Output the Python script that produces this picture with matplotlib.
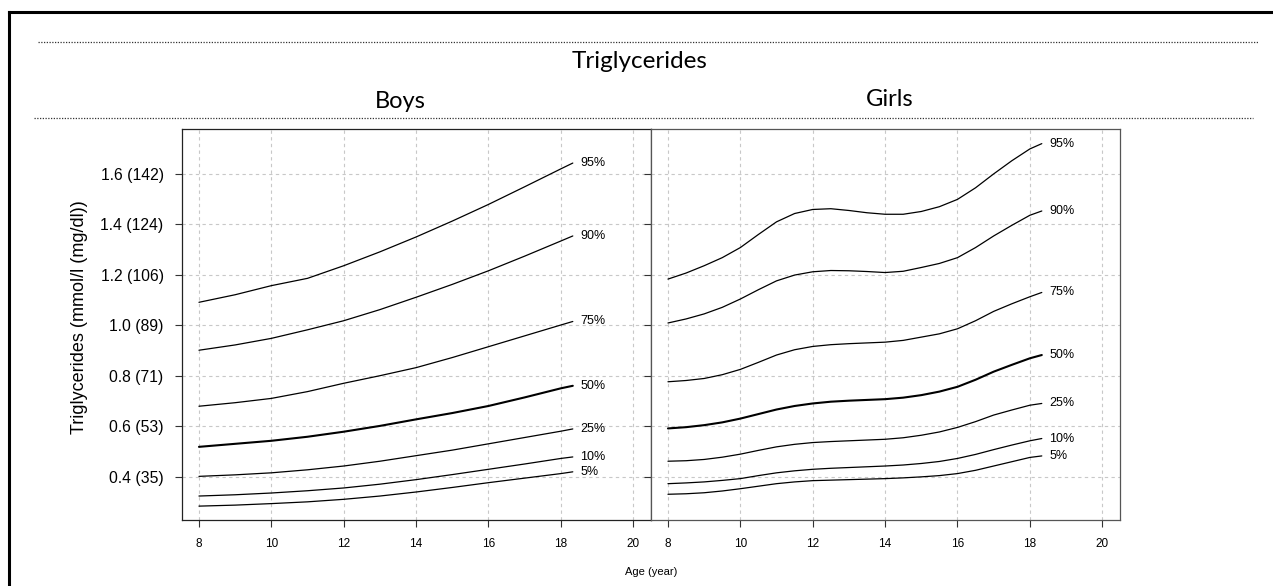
import matplotlib
matplotlib.use("Agg")
import matplotlib.pyplot as plt
from matplotlib.lines import Line2D

# age grid (years) the curves were read at; last point is where the curves stop
boys_ages = [8, 9, 10, 11, 12, 13, 14, 15, 16, 17, 18, 18.33]
girls_ages = [8, 8.5, 9, 9.5, 10, 10.5, 11, 11.5, 12, 12.5, 13, 13.5, 14, 14.5,
              15, 15.5, 16, 16.5, 17, 17.5, 18, 18.33]

# percentile curves, triglycerides in mmol/l
boys = {
    "95%": [1.091, 1.121, 1.157, 1.186, 1.236, 1.291, 1.350, 1.413, 1.479, 1.549, 1.620, 1.643],
    "90%": [0.901, 0.922, 0.948, 0.982, 1.018, 1.062, 1.111, 1.162, 1.216, 1.274, 1.334, 1.354],
    "75%": [0.679, 0.693, 0.710, 0.737, 0.770, 0.800, 0.832, 0.872, 0.915, 0.958, 1.001, 1.015],
    "50%": [0.518, 0.530, 0.542, 0.558, 0.578, 0.601, 0.627, 0.652, 0.680, 0.714, 0.750, 0.760],
    "25%": [0.401, 0.407, 0.415, 0.427, 0.442, 0.461, 0.483, 0.505, 0.530, 0.555, 0.580, 0.589],
    "10%": [0.323, 0.328, 0.335, 0.344, 0.355, 0.370, 0.388, 0.408, 0.429, 0.450, 0.472, 0.478],
    "5%":  [0.283, 0.287, 0.293, 0.300, 0.310, 0.323, 0.339, 0.357, 0.376, 0.394, 0.412, 0.419],
}
girls = {
    "95%": [1.183, 1.207, 1.236, 1.268, 1.308, 1.360, 1.410, 1.443, 1.459, 1.462, 1.455,
            1.446, 1.440, 1.440, 1.451, 1.470, 1.499, 1.545, 1.600, 1.652, 1.699, 1.720],
    "90%": [1.009, 1.025, 1.045, 1.071, 1.104, 1.141, 1.176, 1.199, 1.212, 1.217, 1.216,
            1.213, 1.209, 1.214, 1.229, 1.245, 1.268, 1.308, 1.354, 1.396, 1.436, 1.453],
    "75%": [0.776, 0.781, 0.789, 0.804, 0.825, 0.853, 0.882, 0.903, 0.916, 0.923, 0.927,
            0.930, 0.933, 0.940, 0.953, 0.966, 0.986, 1.018, 1.055, 1.085, 1.113, 1.130],
    "50%": [0.591, 0.596, 0.604, 0.615, 0.630, 0.648, 0.666, 0.680, 0.690, 0.697, 0.701,
            0.704, 0.707, 0.713, 0.723, 0.737, 0.756, 0.784, 0.816, 0.843, 0.869, 0.882],
    "25%": [0.461, 0.463, 0.468, 0.477, 0.489, 0.504, 0.518, 0.528, 0.535, 0.539, 0.542,
            0.545, 0.548, 0.554, 0.564, 0.577, 0.595, 0.618, 0.644, 0.664, 0.683, 0.690],
    "10%": [0.372, 0.375, 0.379, 0.385, 0.392, 0.404, 0.415, 0.423, 0.429, 0.433, 0.436,
            0.439, 0.442, 0.446, 0.452, 0.460, 0.472, 0.488, 0.507, 0.525, 0.542, 0.551],
    "5%":  [0.330, 0.332, 0.336, 0.343, 0.352, 0.362, 0.372, 0.379, 0.384, 0.386, 0.388,
            0.390, 0.392, 0.395, 0.399, 0.404, 0.412, 0.425, 0.442, 0.459, 0.476, 0.482],
}

yticks = [0.4, 0.6, 0.8, 1.0, 1.2, 1.4, 1.6]
ytick_labels = ["0.4 (35)", "0.6 (53)", "0.8 (71)", "1.0 (89)", "1.2 (106)", "1.4 (124)", "1.6 (142)"]
xticks = [8, 10, 12, 14, 16, 18, 20]

W, H = 1273, 586
fig = plt.figure(figsize=(W / 100, H / 100), dpi=100)
plt.rcParams["font.family"] = ["Liberation Sans", "DejaVu Sans"]

def px(x, y):
    # pixel position (from top-left) -> figure fraction
    return x / W, 1 - y / H

# outer frame, clipped at right and bottom like the original
fig.add_artist(Line2D([8.5 / W, 8.5 / W], [0, 1 - 12 / H], color="black", lw=2.2))
fig.add_artist(Line2D([8.5 / W, 1], [1 - 12 / H, 1 - 12 / H], color="black", lw=2.2))

# dotted header rules
for y, x0, x1 in [(42, 38, 1258), (118, 34, 1253)]:
    fig.add_artist(Line2D([x0 / W, x1 / W], [1 - y / H, 1 - y / H],
                          color="#333333", lw=0.9, ls=(0, (1, 1.2))))

head = ["Lato", "DejaVu Sans"]
fig.text(*px(640, 62), "Triglycerides", ha="center", va="center", fontsize=17.5, family=head)
fig.text(*px(400, 102), "Boys", ha="center", va="center", fontsize=17, family=head)
fig.text(*px(890, 100), "Girls", ha="center", va="center", fontsize=17, family=head)

left, bottom = 181.6 / W, (H - 520) / H
width, height = 469 / W, 391 / H
ax1 = fig.add_axes([left, bottom, width, height])
ax2 = fig.add_axes([left + width, bottom, width, height])

for ax, ages, data, edge in [(ax1, boys_ages, boys, "#222222"), (ax2, girls_ages, girls, "#555555")]:
    ax.set_xlim(7.52, 20.48)
    ax.set_ylim(0.228, 1.778)
    ax.set_xticks(xticks)
    ax.set_yticks(yticks)
    ax.grid(True, color="#c8c8c8", lw=0.8, ls=(0, (3, 3)))
    ax.set_axisbelow(True)
    ax.tick_params(axis="x", length=5, width=0.8, labelsize=8.5, pad=8, color="#333333")
    ax.tick_params(axis="y", length=5, width=0.8, labelsize=11.3, pad=8, color="#333333")
    for s in ax.spines.values():
        s.set_color(edge)
        s.set_linewidth(0.9)
    for name, vals in data.items():
        lw = 1.5 if name == "50%" else 0.9
        ax.plot(ages, vals, color="black", lw=lw, solid_capstyle="round", solid_joinstyle="round")
        ax.text(ages[-1] + 0.2, vals[-1], name, fontsize=9, ha="left", va="center")

ax1.set_yticklabels(ytick_labels)
ax1.spines["right"].set_color("#222222")
ax2.set_yticklabels([])

fig.text(*px(79, 317), "Triglycerides (mmol/l (mg/dl))", rotation=90,
         ha="center", va="center", fontsize=13)
fig.text(*px(651, 572), "Age (year)", ha="center", va="center", fontsize=8)

fig.savefig("out.png", dpi=100)
